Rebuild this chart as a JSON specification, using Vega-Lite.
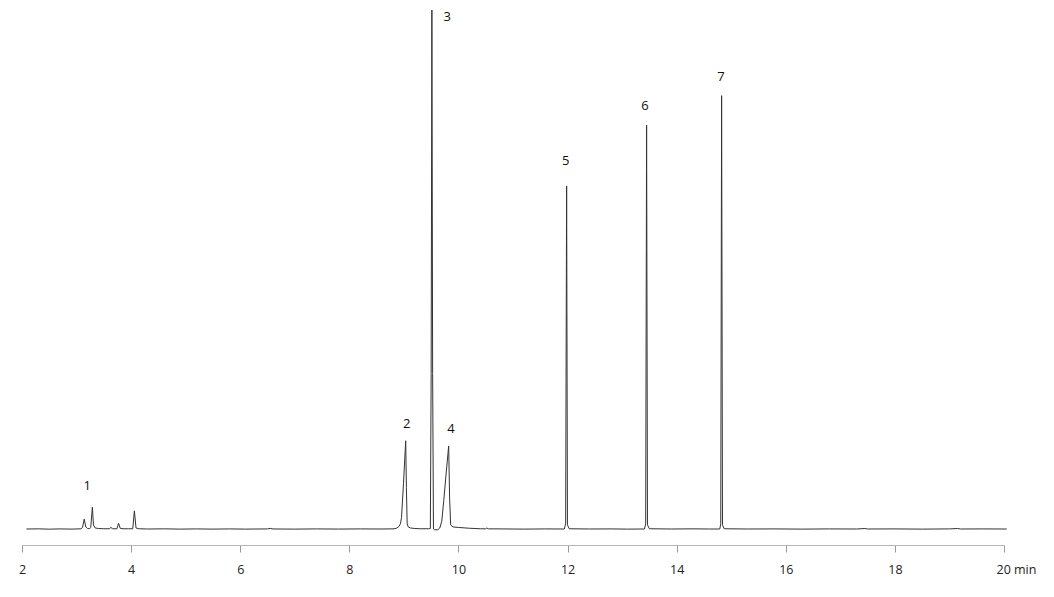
{
  "$schema": "https://vega.github.io/schema/vega-lite/v6.json",
  "autosize": {"type": "none"},
  "width": 982,
  "height": 545,
  "padding": {"left": 22, "top": 0, "right": 50, "bottom": 52},
  "background": "white",
  "config": {"view": {"stroke": null}},
  "datasets": {
    "trace": [
      {"t": 2.08, "v": 0}, {"t": 2.3, "v": 0.3}, {"t": 2.5, "v": -0.3}, {"t": 2.7, "v": 0.2}, {"t": 2.9, "v": -0.2},
      {"t": 3.08, "v": 0.3}, {"t": 3.11, "v": 3}, {"t": 3.14, "v": 19}, {"t": 3.17, "v": 4}, {"t": 3.2, "v": 1},
      {"t": 3.24, "v": 0.5}, {"t": 3.26, "v": 3}, {"t": 3.29, "v": 42}, {"t": 3.31, "v": 8}, {"t": 3.34, "v": 2},
      {"t": 3.4, "v": 1}, {"t": 3.5, "v": 0.5}, {"t": 3.6, "v": 0.5}, {"t": 3.63, "v": 3}, {"t": 3.66, "v": 0.5},
      {"t": 3.74, "v": 0.5}, {"t": 3.77, "v": 11}, {"t": 3.8, "v": 1.5}, {"t": 3.85, "v": 0.5}, {"t": 3.95, "v": 0.5},
      {"t": 4.03, "v": 0.5}, {"t": 4.06, "v": 35}, {"t": 4.09, "v": 2}, {"t": 4.14, "v": 0.5}, {"t": 4.3, "v": 0},
      {"t": 4.6, "v": 0.3}, {"t": 4.9, "v": -0.2}, {"t": 5.2, "v": 0.2}, {"t": 5.5, "v": -0.2}, {"t": 5.8, "v": 0.2},
      {"t": 6.1, "v": -0.2}, {"t": 6.5, "v": 0.2}, {"t": 6.55, "v": 1.2}, {"t": 6.6, "v": 0.1}, {"t": 7.0, "v": -0.2},
      {"t": 7.4, "v": 0.2}, {"t": 7.8, "v": -0.1}, {"t": 8.2, "v": 0.2}, {"t": 8.6, "v": 0}, {"t": 8.8, "v": 0.3},
      {"t": 8.855, "v": 1}, {"t": 8.91, "v": 5}, {"t": 8.937, "v": 10}, {"t": 8.956, "v": 22}, {"t": 8.993, "v": 88},
      {"t": 9.033, "v": 170}, {"t": 9.046, "v": 80}, {"t": 9.06, "v": 10}, {"t": 9.08, "v": 4}, {"t": 9.12, "v": 2},
      {"t": 9.2, "v": 1}, {"t": 9.3, "v": 0.5}, {"t": 9.45, "v": 0.5}, {"t": 9.485, "v": 1}, {"t": 9.5, "v": 300},
      {"t": 9.513, "v": 1000}, {"t": 9.527, "v": 300}, {"t": 9.542, "v": 0}, {"t": 9.565, "v": -1.5}, {"t": 9.62, "v": -1.5},
      {"t": 9.658, "v": 2}, {"t": 9.694, "v": 15}, {"t": 9.731, "v": 55}, {"t": 9.777, "v": 110}, {"t": 9.821, "v": 160},
      {"t": 9.838, "v": 60}, {"t": 9.857, "v": 8}, {"t": 9.9, "v": 4}, {"t": 10.0, "v": 3}, {"t": 10.2, "v": 1.5},
      {"t": 10.4, "v": 0.5}, {"t": 10.5, "v": 0.3}, {"t": 10.52, "v": 2}, {"t": 10.55, "v": 0.3}, {"t": 10.8, "v": 0.2},
      {"t": 11.2, "v": -0.2}, {"t": 11.6, "v": 0.2}, {"t": 11.94, "v": 0}, {"t": 11.965, "v": 10}, {"t": 11.983, "v": 661},
      {"t": 11.998, "v": 8}, {"t": 12.03, "v": 0.5}, {"t": 12.4, "v": 0}, {"t": 12.8, "v": 0.2}, {"t": 13.1, "v": -0.2},
      {"t": 13.41, "v": 0}, {"t": 13.432, "v": 10}, {"t": 13.449, "v": 778}, {"t": 13.465, "v": 8}, {"t": 13.5, "v": 0.5},
      {"t": 13.9, "v": 0}, {"t": 14.3, "v": 0.3}, {"t": 14.6, "v": 0}, {"t": 14.79, "v": 0}, {"t": 14.808, "v": 10},
      {"t": 14.824, "v": 835}, {"t": 14.84, "v": 8}, {"t": 14.87, "v": 0.5}, {"t": 15.3, "v": 0}, {"t": 15.8, "v": 0.2},
      {"t": 16.3, "v": -0.2}, {"t": 16.8, "v": 0.2}, {"t": 17.3, "v": 0}, {"t": 17.45, "v": 1}, {"t": 17.5, "v": 0},
      {"t": 18.0, "v": 0.2}, {"t": 18.5, "v": -0.2}, {"t": 19.0, "v": 0.2}, {"t": 19.15, "v": 1}, {"t": 19.2, "v": 0},
      {"t": 19.6, "v": 0.2}, {"t": 20.05, "v": 0}
    ],
    "labels": [
      {"t": 3.197, "v": 82.9, "label": "1"},
      {"t": 9.051, "v": 202.3, "label": "2"},
      {"t": 9.795, "v": 987.1, "label": "3"},
      {"t": 9.863, "v": 192.1, "label": "4"},
      {"t": 11.965, "v": 709.6, "label": "5"},
      {"t": 13.419, "v": 815, "label": "6"},
      {"t": 14.812, "v": 870.9, "label": "7"}
    ]
  },
  "layer": [
    {
      "data": {"name": "trace"},
      "mark": {"type": "line", "color": "#333333", "strokeWidth": 1, "interpolate": "linear"},
      "encoding": {
        "x": {
          "field": "t", "type": "quantitative",
          "scale": {"domain": [2, 20], "nice": false, "zero": false},
          "axis": {
            "title": null,
            "values": [2, 4, 6, 8, 10, 12, 14, 16, 18, 20],
            "grid": false,
            "domainColor": "#b5b5b5",
            "domainWidth": 1.2,
            "tickColor": "#9a9a9a",
            "tickSize": 7,
            "labelFont": "Open Sans",
            "labelFontSize": 12.5,
            "labelColor": "#222222",
            "labelPadding": 11,
            "labelFlush": false,
            "labelOverlap": false,
            "labelExpr": "datum.value == 20 ? '20 min' : datum.label",
            "labelAlign": {"condition": {"test": "datum.value == 20", "value": "left"}, "value": "center"},
            "labelOffset": {"condition": {"test": "datum.value == 20", "value": -8}, "value": 0}
          }
        },
        "y": {
          "field": "v", "type": "quantitative",
          "scale": {"domain": [-30.8, 1019.3], "nice": false, "zero": false},
          "axis": null
        },
        "order": {"field": "t", "type": "quantitative"}
      }
    },
    {
      "data": {"name": "labels"},
      "mark": {"type": "text", "font": "Open Sans", "fontSize": 13, "color": "#111111", "align": "center", "baseline": "middle"},
      "encoding": {
        "x": {"field": "t", "type": "quantitative"},
        "y": {"field": "v", "type": "quantitative"},
        "text": {"field": "label"}
      }
    }
  ]
}
